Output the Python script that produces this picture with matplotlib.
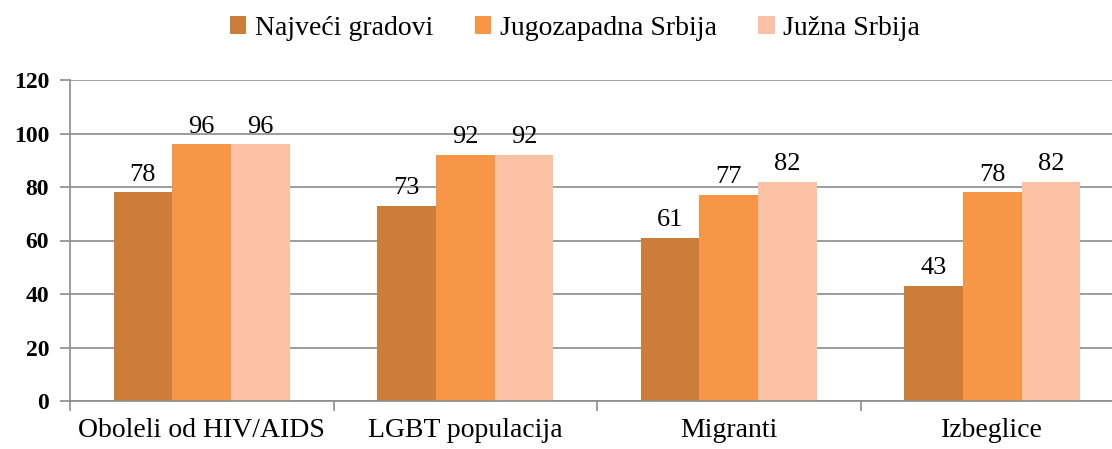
import matplotlib.pyplot as plt
import numpy as np

categories = ['Oboleli od HIV/AIDS', 'LGBT populacija', 'Migranti', 'Izbeglice']
series_names = ['Najveći gradovi', 'Jugozapadna Srbija', 'Južna Srbija']
najveci = [78, 73, 61, 43]
jugozapadna = [96, 92, 77, 78]
juzna = [96, 92, 82, 82]
colors = ['#CD7D3A', '#F79646', '#FAC1A5']

plt.rcParams['font.family'] = ['Liberation Serif', 'DejaVu Serif']

fig = plt.figure(figsize=(11.12, 4.49), dpi=100)
ax = fig.add_axes([70 / 1112, 1 - 401 / 449, 1054 / 1112, 321 / 449])

x = np.arange(len(categories))
w = 0.223
for i, (vals, name) in enumerate(zip([najveci, jugozapadna, juzna], series_names)):
    bars = ax.bar(x + (i - 1) * w, vals, w, color=colors[i], label=name, zorder=2)
    for b, v in zip(bars, vals):
        ax.text(b.get_x() + b.get_width() / 2, v + 2.5, str(v),
                ha='center', va='bottom', fontsize=19)

ax.set_xlim(-0.5, len(categories) - 0.5)
ax.set_ylim(0, 120)
ax.set_yticks(range(0, 121, 20))
ax.set_yticklabels([str(t) for t in range(0, 121, 20)], fontsize=17, fontweight='bold')
ax.yaxis.grid(True, color='#8c8c8c', linewidth=1.2, zorder=0)
ax.set_axisbelow(True)

ax.set_xticks(np.arange(-0.5, len(categories) - 0.5, 1.0), minor=False)
ax.set_xticklabels([])
ax.set_xticks(x, minor=True)
ax.set_xticklabels(categories, minor=True, fontsize=20)
ax.tick_params(axis='x', which='minor', length=0, pad=12)
ax.tick_params(axis='x', which='major', length=7, color='#8c8c8c', width=1.2)
ax.tick_params(axis='y', length=7, color='#8c8c8c', width=1.2, pad=8)

for s in ['top', 'right']:
    ax.spines[s].set_visible(False)
for s in ['left', 'bottom']:
    ax.spines[s].set_color('#8c8c8c')
    ax.spines[s].set_linewidth(1.2)

fig.legend(loc='upper center', bbox_to_anchor=(0.517, 1.02), ncol=3, frameon=False,
           fontsize=20, handlelength=0.6, handleheight=0.6, handletextpad=0.3,
           columnspacing=1.5)

fig.savefig('out.png', dpi=100)
